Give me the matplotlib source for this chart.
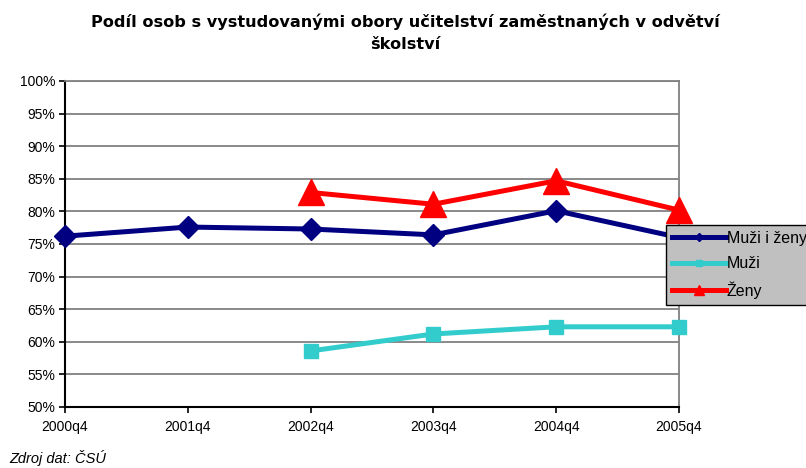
import matplotlib
matplotlib.use("Agg")
import matplotlib.pyplot as plt
from matplotlib.lines import Line2D
import numpy as np

# ── Data ──────────────────────────────────────────────────────────────────────
quarters   = ["2000q4", "2001q4", "2002q4", "2003q4", "2004q4", "2005q4"]
muzi_zeny  = [76.2, 77.6, 77.3, 76.4, 80.1, 76.0]
muzi       = [np.nan, np.nan, 58.6, 61.2, 62.3, 62.3]
zeny       = [np.nan, np.nan, 82.9, 81.1, 84.7, 80.2]

navy = "#000080"
cyan = "#33CCCC"
red  = "#FF0000"

plt.rcParams["font.family"] = ["Liberation Sans", "DejaVu Sans"]

fig = plt.figure(figsize=(8.06, 4.68), dpi=100)
ax = fig.add_axes([65 / 806, 1 - 407 / 468, (679 - 65) / 806, (407 - 81) / 468])

x = np.arange(len(quarters))
ax.plot(x, muzi_zeny, color=navy, lw=3.6, marker="D", ms=11, clip_on=False, zorder=4)
ax.plot(x, muzi, color=cyan, lw=3.6, marker="s", ms=10, clip_on=False, zorder=3)
ax.plot(x, zeny, color=red, lw=3.6, marker="^", ms=19, clip_on=False, zorder=3)

ax.set_xlim(0, len(quarters) - 1)
ax.set_ylim(50, 100)
ax.set_xticks(x)
ax.set_xticklabels(quarters, fontsize=10)
ax.set_yticks(np.arange(50, 101, 5))
ax.set_yticklabels([f"{v}%" for v in range(50, 101, 5)], fontsize=10)
ax.tick_params(axis="both", direction="out", length=4, width=1.2)
ax.tick_params(axis="x", pad=5)
ax.tick_params(axis="y", pad=3)

ax.grid(axis="y", color="#808080", lw=1.3)
ax.set_axisbelow(True)
for s in ["top", "right"]:
    ax.spines[s].set_color("#808080")
    ax.spines[s].set_linewidth(1.3)
for s in ["left", "bottom"]:
    ax.spines[s].set_color("black")
    ax.spines[s].set_linewidth(1.5)

# title (wide bold face to get the spaced-out look)
fig.text(405 / 806, 1 - 13 / 468,
         "Podíl osob s vystudovanými obory učitelství zaměstnaných v odvětví\nškolství",
         ha="center", va="top", fontsize=11.6, fontweight="bold",
         family="DejaVu Sans", linespacing=1.6)

fig.text(9 / 806, 1 - 458 / 468, "Zdroj dat: ČSÚ", ha="left", va="center",
         fontsize=10.5, style="italic")

handles = [
    Line2D([], [], color=navy, lw=3.6, marker="D", ms=4),
    Line2D([], [], color=cyan, lw=3.6, marker="s", ms=5),
    Line2D([], [], color=red, lw=3.6, marker="^", ms=7),
]
leg = fig.legend(handles, ["Muži i ženy", "Muži", "Ženy"],
                 loc="upper left", bbox_to_anchor=(666 / 806, 1 - 225 / 468),
                 borderaxespad=0, fontsize=11.5, handlelength=3.4, handletextpad=0.05,
                 labelspacing=0.65, borderpad=0.36, fancybox=False,
                 facecolor="#C0C0C0", edgecolor="black", framealpha=1)
leg.get_frame().set_linewidth(1.0)

fig.savefig("out.png", dpi=100)
